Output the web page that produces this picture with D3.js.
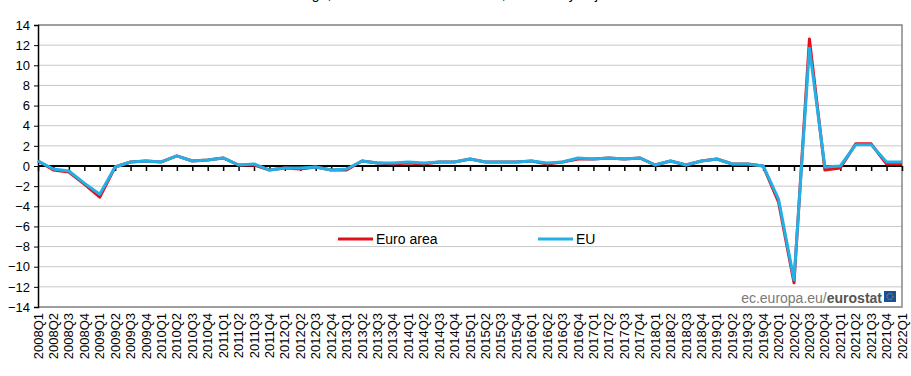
<!DOCTYPE html>
<html lang="en">
<head>
  <meta charset="UTF-8" />
  <title>GDP growth, euro area and EU</title>
  <script src="https://d3js.org/d3.v7.min.js"></script>
  <style>
    body {
      margin: 0;
      background: #fff;
      font-family: "Liberation Sans", Arial, sans-serif;
    }
    svg { display: block; }
    .grid line { stroke: #c8c8c8; stroke-width: 1px; }
    .yaxis text, .xaxis text { font-size: 13px; fill: #000; }
    .legend text { font-size: 14px; fill: #000; }
  </style>
</head>
<body>
  <svg id="chart" width="911" height="376"></svg>
  <script>
    // quarters 2008Q1 .. 2022Q1
    const quarters = [];
    for (let yr = 2008; yr <= 2022; yr++) {
      for (let q = 1; q <= 4; q++) {
        if (yr === 2022 && q > 1) break;
        quarters.push(yr + "Q" + q);
      }
    }

    // % change on previous quarter
    const euroArea = [
      0.5, -0.4, -0.6, -1.8, -3.1, -0.1, 0.4, 0.5, 0.4, 1.0,
      0.5, 0.6, 0.8, 0.1, 0.1, -0.4, -0.2, -0.3, -0.1, -0.4,
      -0.4, 0.5, 0.3, 0.2, 0.3, 0.2, 0.4, 0.4, 0.7, 0.4,
      0.4, 0.4, 0.5, 0.2, 0.4, 0.7, 0.7, 0.8, 0.7, 0.8,
      0.1, 0.5, 0.1, 0.5, 0.7, 0.2, 0.2, 0.0, -3.6, -11.6,
      12.6, -0.4, -0.2, 2.2, 2.2, 0.2, 0.2
    ];
    const eu = [
      0.5, -0.3, -0.5, -1.7, -2.8, -0.1, 0.4, 0.5, 0.4, 1.0,
      0.5, 0.6, 0.8, 0.1, 0.2, -0.4, -0.2, -0.2, -0.1, -0.4,
      -0.3, 0.5, 0.3, 0.3, 0.4, 0.3, 0.4, 0.4, 0.7, 0.4,
      0.4, 0.4, 0.5, 0.3, 0.4, 0.8, 0.7, 0.8, 0.7, 0.8,
      0.1, 0.5, 0.1, 0.5, 0.7, 0.2, 0.2, 0.0, -3.3, -11.3,
      11.7, -0.1, 0.0, 2.1, 2.1, 0.4, 0.4
    ];
    const yTicks = [14, 12, 10, 8, 6, 4, 2, 0, -2, -4, -6, -8, -10, -12, -14];

    const svg = d3.select("#chart");
    const plotL = 38, plotR = 902, plotT = 25, plotB = 307;

    const x = d3.scalePoint().domain(quarters).range([plotL, plotR]);
    const y = d3.scaleLinear().domain([-14, 14]).range([plotB, plotT]);

    // title, mostly above the visible area as in the reference
    svg.append("text")
      .attr("x", 440).attr("y", -1)
      .attr("text-anchor", "middle")
      .attr("fill", "#000")
      .style("font-size", "14px")
      .text("GDP change, % on the last three months, seasonally adjusted");

    // gridlines
    svg.append("g").attr("class", "grid")
      .selectAll("line")
      .data(yTicks.filter(d => d !== 0))
      .join("line")
      .attr("x1", plotL).attr("x2", plotR)
      .attr("y1", d => y(d)).attr("y2", d => y(d));

    // frame (gray) top, right, bottom
    svg.append("path")
      .attr("d", `M${plotL},${plotT}H${plotR}V${plotB}H${plotL}`)
      .attr("fill", "none")
      .attr("stroke", "#888")
      .attr("stroke-width", 1.5);

    // y axis
    const yAxis = svg.append("g")
      .attr("class", "yaxis")
      .attr("transform", `translate(${plotL},0)`)
      .call(d3.axisLeft(y).tickValues(yTicks).tickSize(4).tickPadding(4));
    yAxis.select(".domain").attr("stroke", "#000").attr("stroke-width", 1.5);
    yAxis.selectAll(".tick line").attr("stroke", "#000");
    yAxis.selectAll("text").style("font-family", "Liberation Sans, Arial, sans-serif");

    // zero line with category ticks
    const zeroAxis = svg.append("g")
      .attr("transform", `translate(0,${y(0)})`)
      .call(d3.axisBottom(x).tickSize(5).tickFormat(""));
    zeroAxis.select(".domain").attr("stroke", "#000").attr("stroke-width", 2)
      .attr("d", `M${plotL},0H${plotR}`);
    zeroAxis.selectAll(".tick line").attr("stroke", "#000").attr("stroke-width", 1.5);

    // category labels below the frame, rotated
    svg.append("g").attr("class", "xaxis")
      .selectAll("text")
      .data(quarters)
      .join("text")
      .attr("transform", d => `translate(${x(d) + 4.5},${plotB + 6}) rotate(-90)`)
      .attr("text-anchor", "end")
      .style("font-family", "Liberation Sans, Arial, sans-serif")
      .text(d => d);

    // lines
    const line = d3.line()
      .x((d, i) => x(quarters[i]))
      .y(d => y(d));

    svg.append("path")
      .datum(euroArea)
      .attr("d", line)
      .attr("fill", "none")
      .attr("stroke", "#e3101b")
      .attr("stroke-width", 3)
      .attr("stroke-linejoin", "round");

    svg.append("path")
      .datum(eu)
      .attr("d", line)
      .attr("fill", "none")
      .attr("stroke", "#22b0e6")
      .attr("stroke-width", 3)
      .attr("stroke-linejoin", "round");

    // legend
    const legendItems = [
      { name: "Euro area", color: "#e3101b", x: 338 },
      { name: "EU", color: "#22b0e6", x: 538 }
    ];
    const legend = svg.append("g").attr("class", "legend")
      .selectAll("g")
      .data(legendItems)
      .join("g")
      .attr("transform", d => `translate(${d.x},239)`);
    legend.append("line")
      .attr("x1", 0).attr("x2", 35)
      .attr("stroke", d => d.color)
      .attr("stroke-width", 3);
    legend.append("text")
      .attr("x", 38).attr("y", 5)
      .text(d => d.name);

    // eurostat credit
    const credit = svg.append("text")
      .attr("x", 882).attr("y", 303)
      .attr("text-anchor", "end")
      .style("font-size", "14px");
    credit.append("tspan").attr("fill", "#7a7a7a").text("ec.europa.eu/");
    credit.append("tspan").attr("fill", "#555").attr("font-weight", "bold").text("eurostat");
    svg.append("rect")
      .attr("x", 884).attr("y", 291).attr("width", 12).attr("height", 11)
      .attr("fill", "#1a4f9c");
    svg.append("circle")
      .attr("cx", 890).attr("cy", 296.5).attr("r", 3)
      .attr("fill", "none").attr("stroke", "#f2c500")
      .attr("stroke-width", 0.8).attr("stroke-dasharray", "1 1");
  </script>
</body>
</html>
